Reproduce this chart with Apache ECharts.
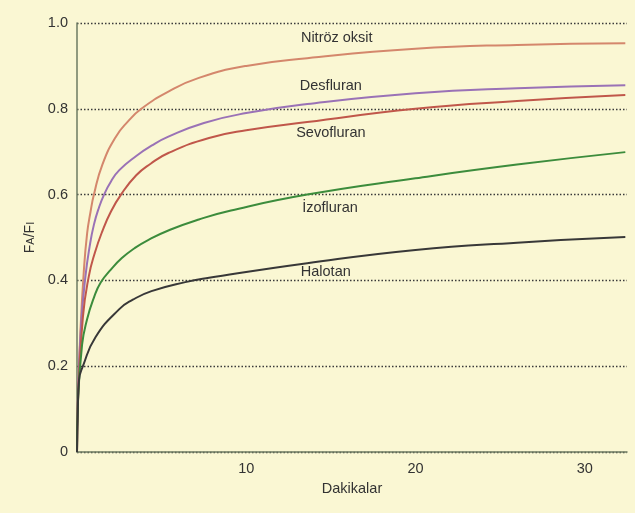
<!DOCTYPE html>
<html>
<head>
<meta charset="utf-8">
<script src="https://cdn.jsdelivr.net/npm/echarts@6/dist/echarts.min.js"></script>
<style>
  html, body { margin: 0; padding: 0; background: #faf7d3; }
  #container { width: 635px; height: 513px; }
</style>
</head>
<body>
<div id="container"></div>
<script>
var dom = document.getElementById('container');
var myChart = echarts.init(dom, null, { renderer: 'canvas' });

// dakika, FA/FI okumaları (şekilden tahmini)
var azotOksit = [[0, 0], [0.05, 0.12], [0.2, 0.28], [0.4, 0.42], [0.6, 0.51], [0.8, 0.56], [1, 0.6], [1.5, 0.67], [2.3, 0.735], [3, 0.77], [3.8, 0.8], [5.4, 0.84], [7.2, 0.872], [10, 0.9], [13.6, 0.918], [20, 0.94], [26, 0.949], [32.4, 0.953]];
var desfluran = [[0, 0], [0.05, 0.12], [0.25, 0.3], [0.5, 0.41], [0.75, 0.48], [1, 0.53], [1.3, 0.57], [1.6, 0.6], [2, 0.63], [2.5, 0.657], [3.5, 0.69], [4.4, 0.714], [5.4, 0.735], [7.5, 0.767], [10, 0.79], [13.6, 0.811], [20, 0.836], [26, 0.848], [32.4, 0.855]];
var sevofluran = [[0, 0], [0.05, 0.11], [0.35, 0.315], [0.7, 0.41], [1.06, 0.465], [1.5, 0.515], [2, 0.56], [2.6, 0.6], [3.5, 0.645], [4.35, 0.672], [5.4, 0.697], [7.8, 0.732], [10, 0.75], [13.6, 0.769], [20, 0.8], [26, 0.818], [32.4, 0.832]];
var izofluran = [[0, 0], [0.05, 0.11], [0.3, 0.25], [0.6, 0.31], [1, 0.36], [1.4, 0.395], [2, 0.425], [2.65, 0.452], [3.4, 0.475], [4.2, 0.494], [5.5, 0.518], [7.2, 0.542], [9.1, 0.563], [13.6, 0.6], [20, 0.638], [26, 0.67], [32.4, 0.699]];
var halotan = [[0, 0], [0.05, 0.1], [0.12, 0.168], [0.35, 0.2], [1.1, 0.268], [2.5, 0.333], [3.3, 0.355], [4.4, 0.375], [6.4, 0.396], [7.8, 0.406], [13.6, 0.44], [20, 0.471], [26, 0.488], [32.4, 0.501]];

var seriesNames = ['Nitröz oksit', 'Desfluran', 'Sevofluran', 'İzofluran', 'Halotan'];
var seriesData = [azotOksit, desfluran, sevofluran, izofluran, halotan];
var seriesColors = ['#d4876c', '#9a72b6', '#c0574a', '#3c8c3c', '#383838'];
// etiket yerleri (dakika, FA/FI)
var labelAt = [[15.35, 0.965], [15.0, 0.853], [15.0, 0.744], [14.95, 0.569], [14.7, 0.42]];

var series = [];
for (var i = 0; i < seriesNames.length; i++) {
    series.push({
        name: seriesNames[i],
        type: 'line',
        data: seriesData[i],
        smooth: 0.5,
        showSymbol: false,
        lineStyle: { color: seriesColors[i], width: 2 },
        markPoint: {
            symbol: 'circle',
            symbolSize: 0,
            label: {
                show: true,
                position: 'inside',
                formatter: seriesNames[i],
                color: '#333',
                fontSize: 14.5,
                fontFamily: 'Liberation Sans, Arial, sans-serif'
            },
            data: [{ coord: labelAt[i] }]
        }
    });
}

var option = {
    backgroundColor: '#faf7d3',
    animation: false,
    grid: { left: 77, right: 8, top: 23, bottom: 61 },
    xAxis: {
        type: 'value',
        min: 0,
        max: 32.5,
        interval: 10,
        name: 'Dakikalar',
        nameLocation: 'middle',
        nameGap: 29,
        nameTextStyle: { color: '#333', fontSize: 14.5, fontFamily: 'Liberation Sans, Arial, sans-serif' },
        axisLine: { lineStyle: { color: '#6d7b62', width: 1.5 } },
        axisTick: { show: false },
        splitLine: { show: false },
        axisLabel: {
            showMinLabel: false,
            showMaxLabel: false,
            margin: 9,
            color: '#333',
            fontSize: 14.5,
            fontFamily: 'Liberation Sans, Arial, sans-serif'
        }
    },
    yAxis: {
        type: 'value',
        min: 0,
        max: 1,
        interval: 0.2,
        name: '{b|F}{s|A}{b|/F}{s|I}',
        nameLocation: 'middle',
        nameGap: 36,
        nameRotate: 90,
        nameTextStyle: {
            color: '#333',
            fontFamily: 'Liberation Sans, Arial, sans-serif',
            rich: {
                b: { fontSize: 14, color: '#333' },
                s: { fontSize: 11, color: '#333', verticalAlign: 'bottom' }
            }
        },
        axisLine: { show: true, lineStyle: { color: '#6d7b62', width: 1.5 } },
        axisTick: { show: false },
        axisLabel: {
            margin: 9,
            color: '#333',
            fontSize: 14.5,
            fontFamily: 'Liberation Sans, Arial, sans-serif',
            formatter: function (v) { return v === 0 ? '0' : v.toFixed(1); }
        },
        splitLine: {
            show: true,
            lineStyle: { color: '#3a3a3a', width: 1.3, type: [1.5, 2] }
        }
    },
    series: series
};

myChart.setOption(option);
window.addEventListener('resize', myChart.resize);
</script>
</body>
</html>
